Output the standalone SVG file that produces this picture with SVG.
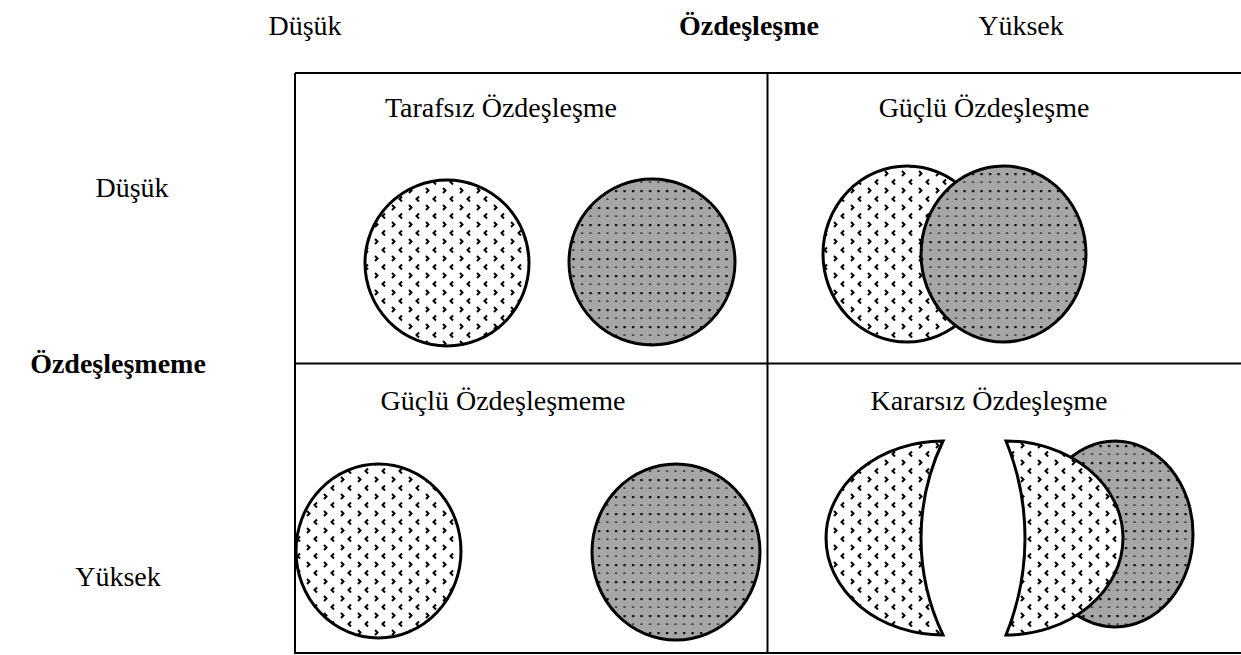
<svg xmlns="http://www.w3.org/2000/svg" width="1241" height="655" viewBox="0 0 1241 655">
<style>
.t{font-family:"Liberation Serif","Times New Roman",serif;font-size:28px;fill:#000}
.b{font-weight:bold}
.grid{stroke:#000;stroke-width:2;fill:none}
.lt{fill:url(#light);stroke:#000;stroke-width:3}
.dk{fill:url(#dark);stroke:#000;stroke-width:3}
</style>
<defs>
<pattern id="light" patternUnits="userSpaceOnUse" width="17" height="17">
<rect width="17" height="17" fill="#fff"/>
<path d="M1,1 L3.5,3.5 L1,6 M11,9.5 L8.5,12 L11,14.5" stroke="#000" stroke-width="2" fill="none"/>
</pattern>
<pattern id="dark" patternUnits="userSpaceOnUse" width="8.5" height="17">
<rect width="8.5" height="17" fill="#a6a6a6"/>
<rect x="3" y="3" width="2.2" height="2.2" fill="#000"/>
<rect x="3" y="11.5" width="2" height="1.2" fill="#000"/>
</pattern>
</defs>
<g id="axis-labels">
<text class="t" x="305" y="35" text-anchor="middle">Düşük</text>
<text class="t b" x="749" y="35" text-anchor="middle">Özdeşleşme</text>
<text class="t" x="1021" y="35" text-anchor="middle">Yüksek</text>
<text class="t" x="132" y="197" text-anchor="middle">Düşük</text>
<text class="t b" x="118" y="373" text-anchor="middle">Özdeşleşmeme</text>
<text class="t" x="118" y="586" text-anchor="middle">Yüksek</text>
</g>
<g id="grid">
<path class="grid" d="M295,73 H1241 M295,73 V653 H1241 M767.5,73 V653 M295,363.5 H1241"/>
</g>
<g id="cell-neutral">
<text class="t" x="501" y="117" text-anchor="middle">Tarafsız Özdeşleşme</text>
<ellipse class="lt" cx="447" cy="263" rx="82" ry="83"/>
<ellipse class="dk" cx="652" cy="262" rx="83" ry="83"/>
</g>
<g id="cell-strong-identification">
<text class="t" x="984" y="117" text-anchor="middle">Güçlü Özdeşleşme</text>
<ellipse class="lt" cx="907" cy="254" rx="84" ry="88"/>
<ellipse class="dk" cx="1003.5" cy="254" rx="82.5" ry="88"/>
</g>
<g id="cell-strong-disidentification">
<text class="t" x="503" y="410" text-anchor="middle">Güçlü Özdeşleşmeme</text>
<ellipse class="lt" cx="378.5" cy="551" rx="82.5" ry="87"/>
<ellipse class="dk" cx="676" cy="552" rx="84" ry="88"/>
</g>
<g id="cell-ambivalent">
<text class="t" x="989" y="410" text-anchor="middle">Kararsız Özdeşleşme</text>
<ellipse class="dk" cx="1115" cy="534" rx="78" ry="93"/>
<path class="lt" d="M943,441 A117,97 0 0 0 943,635 A225,225 0 0 1 943,441 Z"/>
<path class="lt" d="M1006,441 A257,257 0 0 1 1006,635 A117,97 0 0 0 1006,441 Z"/>
</g>
</svg>
